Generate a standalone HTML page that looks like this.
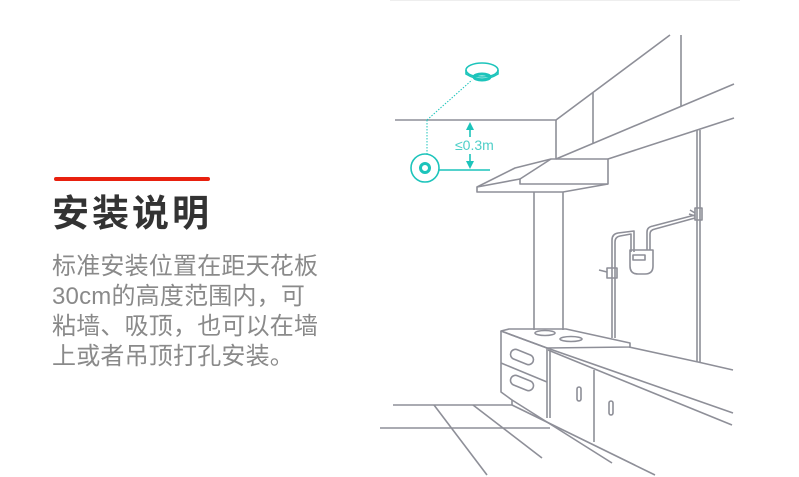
<!DOCTYPE html>
<html><head><meta charset="utf-8"><style>
body{margin:0;width:799px;height:477px;background:#fff;position:relative;overflow:hidden;font-family:"Liberation Sans","Noto Sans CJK SC",sans-serif}
.bar{position:absolute;left:54px;top:177px;width:156px;height:4px;background:#e8200e;border-radius:2px}
.t{position:absolute;left:52px;top:190px;font-size:37px;font-weight:bold;color:#333;line-height:48px;white-space:nowrap;letter-spacing:3px}
.b{position:absolute;left:52px;top:252px;font-size:24px;color:#8a8a8a;line-height:30px;white-space:nowrap;letter-spacing:0.2px}
svg{position:absolute;left:0;top:0}
</style></head><body>
<div class="bar"></div>
<div class="t">安装说明</div>
<div class="b">标准安装位置在距天花板<br>30cm的高度范围内，可<br>粘墙、吸顶，也可以在墙<br>上或者吊顶打孔安装。</div>
<svg width="799" height="477" viewBox="0 0 799 477">
<line x1="390" y1="0.5" x2="740" y2="0.5" stroke="#eee" stroke-width="1"/>
<g fill="none" stroke="#8e8f98" stroke-width="1.6" stroke-linejoin="round">
<polyline points="395,120 556,120 670,35"/>
<line x1="681" y1="35" x2="681" y2="106"/>
<line x1="593" y1="93" x2="593" y2="143"/>
<line x1="556" y1="120" x2="556" y2="159"/>
<line x1="556" y1="159" x2="734" y2="84"/>
<line x1="608" y1="159" x2="734" y2="118"/>
<polygon points="477,187 515,168 551,159 608,159 608,184 563,192 477,192"/>
<polyline points="477,187 520,179 520,184 608,184"/>
<line x1="520" y1="179" x2="551" y2="159"/>
<line x1="534" y1="192" x2="534" y2="330"/>
<line x1="563" y1="192" x2="563" y2="330"/>
<line x1="697" y1="130" x2="697" y2="362"/>
<line x1="700" y1="130" x2="700" y2="362"/>
<rect x="695" y="208" width="7" height="12"/>
<path d="M695,213 L690,210 M695,216 L689,214"/>
<path d="M612,338 V240 Q612,234 618,233 L634,231 V252"/>
<path d="M615,338 V242 Q615,237 620,236 L631,234 V252"/>
<rect x="607" y="268" width="10" height="10"/>
<path d="M607,272 L599,270"/>
<path d="M630,250 H653 V266 Q653,274 645,274 H638 Q630,274 630,266 Z"/>
<rect x="633" y="255" width="12" height="5"/>
<path d="M647,250 V232 Q647,227 653,226 L695,215"/>
<path d="M650,250 V234 Q650,230 655,229 L695,218"/>
<polygon points="501,331 509,329 566,329 630,343 630,347 547,348"/>
<ellipse cx="545" cy="333" rx="10" ry="2.5"/>
<ellipse cx="571" cy="339" rx="11" ry="2.5"/>
<polyline points="501,331 547,348 733,413"/>
<polyline points="548,350 732,425"/>
<polyline points="629,347 698,362 733,370"/>
<polyline points="501,331 501,392 512,400 512,405"/>
<line x1="512" y1="400" x2="612" y2="463"/>
<line x1="512" y1="405" x2="655" y2="475"/>
<line x1="547" y1="348" x2="547" y2="418"/>
<line x1="550" y1="350" x2="550" y2="418"/>
<line x1="501" y1="363" x2="547" y2="382"/>
<line x1="594" y1="370" x2="594" y2="442"/>
<rect x="510" y="352" width="24" height="10" rx="5" transform="rotate(22 522 357)"/>
<rect x="510" y="378" width="24" height="10" rx="5" transform="rotate(22 522 383)"/>
<rect x="577" y="387" width="4" height="14" rx="2"/>
<rect x="609" y="401" width="4" height="14" rx="2"/>
<line x1="393" y1="405" x2="512" y2="405"/>
<line x1="380" y1="428" x2="550" y2="428"/>
<line x1="434" y1="405" x2="487" y2="475"/>
<line x1="473" y1="405" x2="542" y2="458"/>
</g>
<g fill="none" stroke="#1cc4bb" stroke-width="1.6">
<ellipse cx="482" cy="70" rx="16" ry="7"/>
<path d="M466,70 V74 Q482,84 498,74 V70"/>
<ellipse cx="482" cy="77" rx="8" ry="3" stroke-width="3"/>
<circle cx="425" cy="168" r="14"/>
<circle cx="425" cy="168" r="4.5" stroke-width="3"/>
<line x1="439" y1="170" x2="490" y2="170"/>
<line x1="427" y1="120" x2="472" y2="80" stroke-dasharray="1.5 1.5" stroke-width="1"/>
<line x1="427" y1="120" x2="427" y2="154" stroke-dasharray="1.5 1.5" stroke-width="1"/>
<line x1="470" y1="124" x2="470" y2="137"/>
<line x1="470" y1="154" x2="470" y2="167"/>
</g>
<polygon points="470,122 466,130 474,130" fill="#1cc4bb"/>
<polygon points="470,169 466,161 474,161" fill="#1cc4bb"/>
<text x="455" y="150" font-size="14" fill="#4fcfc8" font-family="Liberation Sans,DejaVu Sans,sans-serif">≤0.3m</text>
</svg>
</body></html>
